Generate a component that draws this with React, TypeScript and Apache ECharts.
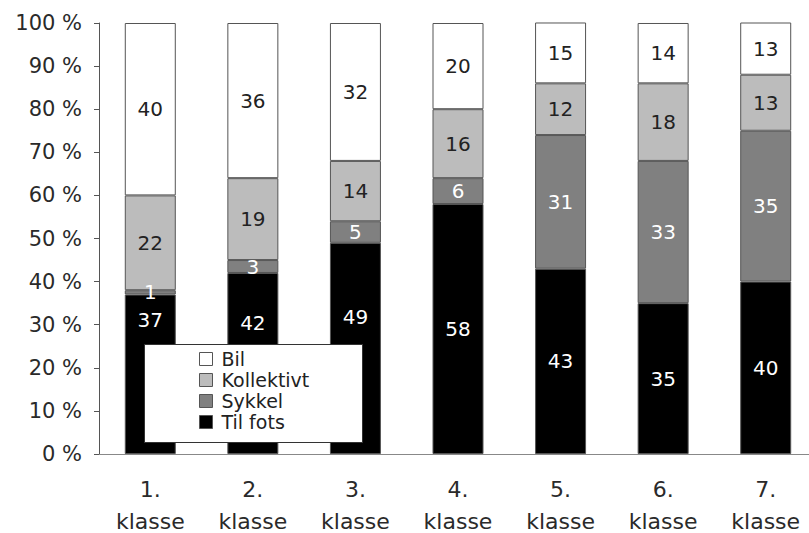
import React, { useEffect, useRef } from "react";
import * as echarts from "echarts";

const categories = ["1.\nklasse", "2.\nklasse", "3.\nklasse", "4.\nklasse", "5.\nklasse", "6.\nklasse", "7.\nklasse"];
const tilFots = [37, 42, 49, 58, 43, 35, 40];
const sykkel = [1, 3, 5, 6, 31, 33, 35];
const kollektivt = [22, 19, 14, 16, 12, 18, 13];
const bil = [40, 36, 32, 20, 15, 14, 13];
// label lift (px) for the bottom segment, moved above the legend in the original
const tilFotsLabelLift = [-54, -40, -31, 0, 0, 0, 0];

const FONT = "DejaVu Sans";

export default function App() {
  const ref = useRef<HTMLDivElement>(null);
  useEffect(() => {
    if (!ref.current) return;
    const chart = echarts.init(ref.current, undefined, { renderer: "svg" });
    const labelBase = { show: true, position: "inside", fontFamily: FONT, fontSize: 20 };
    const mk = (name: string, data: number[], color: string, labelColor: string, lifts?: number[]) => ({
      name,
      type: "bar",
      stack: "all",
      barWidth: 51,
      itemStyle: { color, borderColor: "#555", borderWidth: 1 },
      label: { ...labelBase, color: labelColor },
      data: data.map((v, i) =>
        lifts && lifts[i] ? { value: v, label: { offset: [0, lifts[i]] } } : v
      ),
    });
    chart.setOption({
      animation: false,
      backgroundColor: "#fff",
      grid: { left: 99, right: -8, top: 23, bottom: 79, containLabel: false, outerBoundsMode: "none" },
      xAxis: {
        type: "category",
        data: categories,
        axisLine: { lineStyle: { color: "#888", width: 1 } },
        axisTick: { show: false },
        axisLabel: { fontFamily: FONT, fontSize: 22, color: "#2a2a2a", margin: 19, lineHeight: 32 },
      },
      yAxis: {
        type: "value",
        min: 0,
        max: 100,
        interval: 10,
        splitLine: { show: false },
        axisLine: { show: true, lineStyle: { color: "#555" } },
        axisTick: { show: true, inside: false, length: 5, lineStyle: { color: "#555" } },
        axisLabel: { fontFamily: FONT, fontSize: 21, color: "#2a2a2a", margin: 17, formatter: "{value} %" },
      },
      legend: {
        data: ["Bil", "Kollektivt", "Sykkel", "Til fots"],
        orient: "vertical",
        left: 199,
        top: 349,
        z: 101,
        padding: 0,
        itemWidth: 13,
        itemHeight: 13,
        itemGap: 1,
        icon: "rect",
        selectedMode: false,
        textStyle: { fontFamily: FONT, fontSize: 19, color: "#222", lineHeight: 20, padding: [0, 0, 0, 4] },
        itemStyle: { borderColor: "#555", borderWidth: 1 },
      },
      graphic: [
        {
          type: "rect",
          left: 144,
          top: 344,
          z: 100,
          shape: { width: 218, height: 98 },
          style: { fill: "#fff", stroke: "#333", lineWidth: 1 },
        },
      ],
      series: [
        mk("Til fots", tilFots, "#000", "#fff", tilFotsLabelLift),
        mk("Sykkel", sykkel, "#808080", "#fff"),
        mk("Kollektivt", kollektivt, "#bcbcbc", "#222"),
        mk("Bil", bil, "#fff", "#222"),
      ],
    });
    return () => chart.dispose();
  }, []);
  return <div ref={ref} style={{ width: 809, height: 533, position: "absolute", left: 0, top: 0 }} />;
}
